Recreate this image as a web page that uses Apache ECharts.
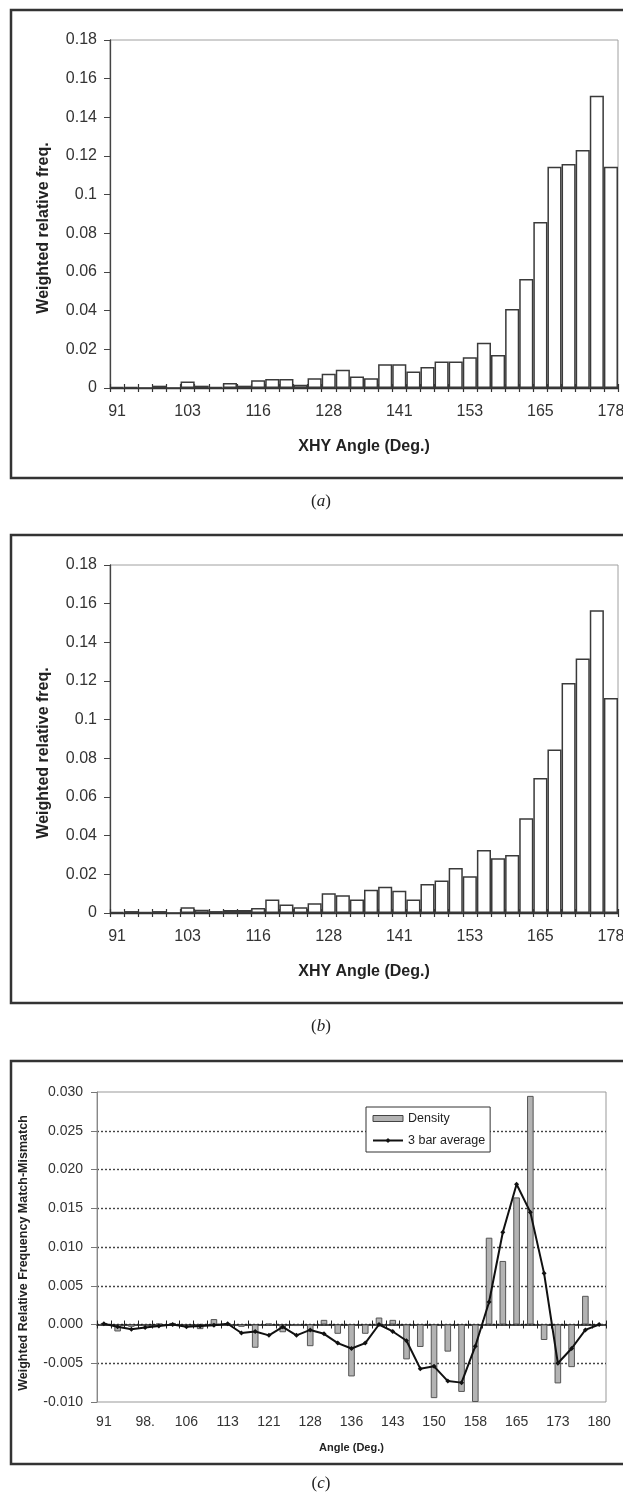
<!DOCTYPE html>
<html>
<head>
<meta charset="utf-8">
<script src="https://cdn.jsdelivr.net/npm/echarts@6/dist/echarts.min.js"></script>
<style>
  html, body { margin: 0; padding: 0; background: #fff; }
  #chart { width: 623px; height: 1494px; }
</style>
</head>
<body>
<div id="chart"></div>
<script>
// angle bins (deg.), 36 bins used in (a) and (b)
const angles = ['91', '93', '96', '98', '101', '103', '106', '108', '111', '113', '116', '118', '121',
  '123', '126', '128', '131', '133', '136', '138', '141', '143', '145', '148', '150', '153', '155',
  '158', '160', '163', '165', '168', '170', '173', '175', '178'];
// panel (c) has 37 bins, the 98 bin is printed as "98."
const anglesC = ['91', '93', '96', '98.', '101', '103', '106', '108', '111', '113', '116', '118', '121',
  '123', '126', '128', '131', '133', '136', '138', '141', '143', '145', '148', '150', '153', '155',
  '158', '160', '163', '165', '168', '170', '173', '175', '178', '180'];

// (a) weighted relative frequency
const freqA = [0.0005, 0.0005, 0, 0.0012, 0, 0.0034, 0.0012, 0.0005, 0.0026, 0.0012, 0.0040, 0.0046,
  0.0046, 0.0017, 0.0051, 0.0074, 0.0094, 0.0060, 0.0051, 0.0123, 0.0123, 0.0085, 0.0108, 0.0137,
  0.0137, 0.0159, 0.0234, 0.0171, 0.0409, 0.0564, 0.0859, 0.1145, 0.1159, 0.1231, 0.1512, 0.1145];

// (b) weighted relative frequency
const freqB = [0.0005, 0.0010, 0.0005, 0.0010, 0, 0.0030, 0.0017, 0.0010, 0.0016, 0.0016, 0.0026, 0.0070,
  0.0044, 0.0030, 0.0050, 0.0102, 0.0092, 0.0070, 0.0120, 0.0136, 0.0115, 0.0070, 0.0150, 0.0168,
  0.0233, 0.0190, 0.0326, 0.0283, 0.0300, 0.0490, 0.0698, 0.0846, 0.1190, 0.1316, 0.1566, 0.1112];

// (c) match - mismatch density
const density = [0.0002, -0.0009, -0.0003, -0.0002, 0.0001, 0.0002, -0.0003, -0.0006, 0.0007, 0.0001,
  -0.0003, -0.0030, 0.0001, -0.0010, -0.0002, -0.0028, 0.0006, -0.0012, -0.0067, -0.0012, 0.0009,
  0.0006, -0.0045, -0.0029, -0.0095, -0.0035, -0.0087, -0.0100, 0.0112, 0.0082, 0.0164, 0.0295,
  -0.0020, -0.0076, -0.0055, 0.0037, 0.0000];

// (c) 3 bar average
const barAverage = [0.0001, -0.0003, -0.0006, -0.0004, -0.0002, 0.0000, -0.0003, -0.0002, -0.0001, 0.0001,
  -0.0011, -0.0009, -0.0014, -0.0003, -0.0014, -0.0007, -0.0012, -0.0024, -0.0031, -0.0024, 0.0000,
  -0.0009, -0.0021, -0.0057, -0.0054, -0.0073, -0.0075, -0.0028, 0.0029, 0.0119, 0.0181, 0.0145,
  0.0066, -0.0050, -0.0031, -0.0007, 0.0000];

const FONT = 'Liberation Sans, Arial, sans-serif';
const SERIF = 'Liberation Serif, Times New Roman, serif';

const chart = echarts.init(document.getElementById('chart'), null, { renderer: 'canvas' });

// histogram x axis; a second copy with inside ticks gives the crossing ticks
function histX(gridIndex, inside) {
  return {
    type: 'category',
    gridIndex: gridIndex,
    data: angles,
    position: 'bottom',
    boundaryGap: true,
    axisLine: { show: !inside, onZero: false, lineStyle: { color: '#333', width: 1.3 } },
    axisTick: { show: true, inside: inside, interval: 0, length: 4, lineStyle: { color: '#333', width: 1.2 } },
    axisLabel: {
      show: !inside, interval: 4, margin: 16, fontSize: 16, color: '#333', fontFamily: FONT
    },
    splitLine: { show: false },
    name: inside ? '' : 'XHY Angle (Deg.)',
    nameLocation: 'middle',
    nameGap: 51,
    nameTextStyle: { fontSize: 16, fontWeight: 'bold', color: '#222', fontFamily: FONT }
  };
}

function histY(gridIndex) {
  return {
    type: 'value',
    gridIndex: gridIndex,
    min: 0,
    max: 0.18,
    interval: 0.02,
    axisLine: { show: true, lineStyle: { color: '#444', width: 1.3 } },
    axisTick: { show: true, length: 6, lineStyle: { color: '#444' } },
    splitLine: { show: false },
    axisLabel: {
      margin: 13, fontSize: 16, color: '#333', fontFamily: FONT,
      formatter: v => String(+v.toFixed(2))
    },
    name: 'Weighted relative freq.',
    nameLocation: 'middle',
    nameGap: 58,
    nameTextStyle: { fontSize: 16, fontWeight: 'bold', color: '#222', fontFamily: FONT, padding: [0, 28, 0, 0] }
  };
}

function histBar(xi, yi, data) {
  return {
    type: 'bar',
    xAxisIndex: xi,
    yAxisIndex: yi,
    data: data,
    barWidth: '100%',
    barCategoryGap: 0,
    itemStyle: { color: '#fff', borderColor: '#3a3a3a', borderWidth: 1.5 },
    emphasis: { disabled: true },
    z: 3
  };
}

function caption(letter, y) {
  return {
    type: 'text',
    x: 321,
    y: y,
    style: {
      text: '{p|(}{i|' + letter + '}{p|)}',
      align: 'center',
      verticalAlign: 'middle',
      rich: {
        p: { fontFamily: SERIF, fontSize: 17, fill: '#222' },
        i: { fontFamily: SERIF, fontSize: 17, fontStyle: 'italic', fill: '#222' }
      }
    }
  };
}

function frame(top, bottom) {
  return {
    type: 'rect',
    shape: { x: 11, y: top, width: 640, height: bottom - top },
    style: { fill: 'none', stroke: '#333', lineWidth: 2.5 },
    z: 10
  };
}

const option = {
  animation: false,
  backgroundColor: '#fff',
  textStyle: { fontFamily: FONT },
  grid: [
    { left: 110, top: 40, width: 508, height: 348, show: true, borderColor: '#a0a0a0', borderWidth: 1, outerBoundsMode: 'none' },
    { left: 110, top: 565, width: 508, height: 348, show: true, borderColor: '#a0a0a0', borderWidth: 1, outerBoundsMode: 'none' },
    { left: 97, top: 1092, width: 509, height: 310, show: true, borderColor: '#999', borderWidth: 1, outerBoundsMode: 'none' }
  ],
  xAxis: [
    histX(0, false),
    histX(0, true),
    histX(1, false),
    histX(1, true),
    // (c) labels along the bottom edge
    {
      type: 'category', gridIndex: 2, data: anglesC, position: 'bottom',
      axisLine: { show: false, onZero: false },
      axisTick: { show: false },
      axisLabel: { interval: 2, margin: 13, fontSize: 14, color: '#333', fontFamily: FONT },
      name: 'Angle (Deg.)', nameLocation: 'middle', nameGap: 40,
      nameTextStyle: { fontSize: 11, fontWeight: 'bold', color: '#222', fontFamily: FONT }
    },
    // (c) zero line with crossing ticks
    {
      type: 'category', gridIndex: 2, data: anglesC, position: 'bottom',
      axisLine: { show: true, onZero: true, onZeroAxisIndex: 2, lineStyle: { color: '#111', width: 1.6 } },
      axisTick: { show: true, interval: 0, length: 4, lineStyle: { color: '#222' } },
      axisLabel: { show: false }
    },
    {
      type: 'category', gridIndex: 2, data: anglesC, position: 'bottom',
      axisLine: { show: false, onZero: true, onZeroAxisIndex: 2 },
      axisTick: { show: true, inside: true, interval: 0, length: 4, lineStyle: { color: '#222' } },
      axisLabel: { show: false }
    }
  ],
  yAxis: [
    histY(0),
    histY(1),
    {
      type: 'value', gridIndex: 2, min: -0.01, max: 0.03, interval: 0.005,
      axisLine: { show: true, lineStyle: { color: '#888' } },
      axisTick: { show: true, length: 6, lineStyle: { color: '#777' } },
      splitLine: {
        show: true, showMinLine: false, showMaxLine: false,
        lineStyle: { type: [2, 2], color: '#444', width: 1.4 }
      },
      axisLabel: {
        margin: 14, fontSize: 14, color: '#333', fontFamily: FONT,
        formatter: v => v.toFixed(3)
      },
      name: 'Weighted Relative Frequency Match-Mismatch',
      nameLocation: 'middle', nameGap: 67,
      nameTextStyle: { fontSize: 12.5, fontWeight: 'bold', color: '#222', fontFamily: FONT, padding: [0, 12, 0, 0] }
    }
  ],
  legend: {
    left: 366,
    top: 1107,
    orient: 'vertical',
    backgroundColor: '#fff',
    borderColor: '#333',
    borderWidth: 1,
    padding: [5, 5, 5, 6],
    itemGap: 9,
    itemWidth: 30,
    itemHeight: 6,
    selectedMode: false,
    textStyle: { fontSize: 12.5, color: '#222', fontFamily: FONT },
    data: [
      { name: 'Density', icon: 'rect', itemStyle: { color: '#b3b3b3', borderColor: '#444', borderWidth: 1 } },
      { name: '3 bar average' }
    ]
  },
  series: [
    histBar(0, 0, freqA),
    histBar(2, 1, freqB),
    {
      name: 'Density',
      type: 'bar',
      xAxisIndex: 4,
      yAxisIndex: 2,
      data: density,
      barWidth: '48%',
      itemStyle: { color: '#b3b3b3', borderColor: '#555', borderWidth: 1 },
      emphasis: { disabled: true },
      z: 2
    },
    {
      name: '3 bar average',
      type: 'line',
      xAxisIndex: 4,
      yAxisIndex: 2,
      data: barAverage,
      symbol: 'diamond',
      symbolSize: 5,
      itemStyle: { color: '#111' },
      lineStyle: { color: '#111', width: 2 },
      emphasis: { disabled: true },
      z: 4
    }
  ],
  graphic: [
    frame(10, 478),
    frame(535, 1003),
    frame(1061, 1464),
    caption('a', 502),
    caption('b', 1027),
    caption('c', 1484)
  ]
};

chart.setOption(option);
window.addEventListener('resize', () => chart.resize());
</script>
</body>
</html>
